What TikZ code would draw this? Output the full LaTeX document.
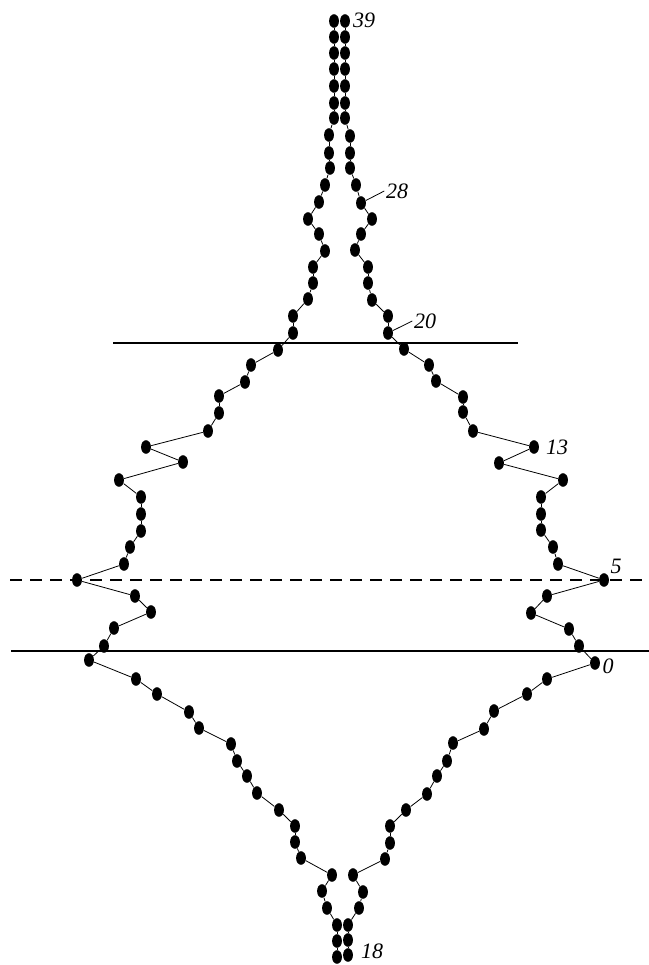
\documentclass[tikz,border=0pt]{standalone}
\usepackage{fontspec}
\setmainfont{Liberation Serif}
\usepackage{tikz}
\usetikzlibrary{shapes.geometric}

\begin{document}
\begin{tikzpicture}[x=0.75pt, y=-0.75pt, line width=0.6pt,
  bead/.style={ellipse, fill=black, draw=none, minimum width=7.4pt, minimum height=10.2pt,
               inner sep=0pt},
  idx/.style={font=\fontsize{16.5}{19}\selectfont\itshape, inner sep=1pt},
  strand/.style={black, line width=0.6pt},
  level/.style={black, line width=0.9pt}
]
\useasboundingbox (0,0) rectangle (649,965);

% ---- reference levels ---------------------------------------------------
\coordinate (ua) at (113,343);  \coordinate (ub) at (518,343);
\coordinate (da) at (10,580);   \coordinate (db) at (649,580);
\coordinate (la) at (11,651);   \coordinate (lb) at (649,651);
\draw[level] (ua) -- (ub);
\draw[level, dash pattern=on 9pt off 6pt] (da) -- (db);
\draw[level] (la) -- (lb);

% ---- right strand (top to bottom) ---------------------------------------
\foreach \x/\y [count=\i] in {345/21, 345/37, 345/53, 345/69, 345/86, 345/103, 345/118,
    350/136, 350/153, 350/168, 356/185, 361/203, 372/219, 361/234, 355/250, 368/267,
    368/283, 372/300, 388/316, 388/333, 404/349, 429/365, 436/381, 463/397, 463/412,
    473/431, 534/447, 499/463, 563/480, 541/497, 541/514, 541/530, 553/547, 558/564,
    604/580, 547/596, 531/613, 569/629, 579/646, 595/663, 547/679, 527/694, 494/711,
    484/729, 453/743, 447/761, 437/776, 427/794, 406/810, 390/826, 390/843, 385/859,
    353/875, 363/892, 359/908, 348/925, 348/940, 348/955} {
  \node[bead] (r\i) at (\x,\y) {};
}
% ---- left strand (top to bottom) ----------------------------------------
\foreach \x/\y [count=\i] in {334/21, 334/37, 334/53, 334/69, 334/86, 334/103, 334/118,
    329/135, 329/153, 330/168, 325/185, 319/202, 308/219, 319/234, 325/251, 313/267,
    313/283, 308/299, 293/316, 293/333, 278/350, 251/365, 245/382, 219/396, 219/413,
    208/431, 146/447, 183/462, 119/480, 141/497, 141/514, 141/531, 130/547, 124/564,
    77/580, 135/596, 151/612, 114/628, 104/646, 89/660, 136/679, 157/694, 189/712,
    199/728, 231/744, 237/761, 247/776, 257/793, 279/810, 295/826, 295/842, 301/858,
    332/875, 322/891, 327/908, 337/925, 337/941, 337/957} {
  \node[bead] (l\i) at (\x,\y) {};
}
\foreach \i [count=\j from 2] in {1,...,57} {
  \draw[strand] (r\i) -- (r\j);
  \draw[strand] (l\i) -- (l\j);
}

% ---- numbering ----------------------------------------------------------
\node[idx] (n39) at (364,20) {39};
\node[idx] (n28) at (397,191) {28};
\node[idx] (n20) at (425,321) {20};
\node[idx] (n13) at (557,447) {13};
\node[idx] (n5)  at (616,566) {5};
\node[idx] (n0)  at (608,666) {0};
\node[idx] (n18) at (372,951) {18};
\draw[strand] (n28.west) -- (r12);
\draw[strand] (n20.west) -- (r20);

\end{tikzpicture}
\end{document}
